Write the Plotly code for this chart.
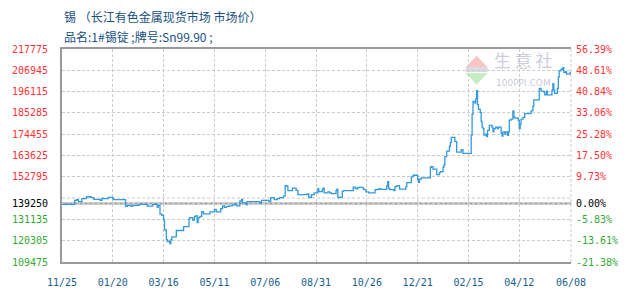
import plotly.graph_objects as go

# ---------------- data ----------------
dates = [
    "2019-11-25", "2019-12-09", "2019-12-11", "2019-12-13", "2019-12-17", "2019-12-22", "2019-12-27",
    "2019-12-30", "2020-01-06", "2020-01-08", "2020-01-09", "2020-01-15", "2020-01-20", "2020-01-21",
    "2020-02-03", "2020-02-05", "2020-02-09", "2020-02-11", "2020-02-18", "2020-02-27", "2020-03-04",
    "2020-03-09", "2020-03-10", "2020-03-12", "2020-03-14", "2020-03-16", "2020-03-17", "2020-03-19",
    "2020-03-20", "2020-03-23", "2020-03-24", "2020-03-25", "2020-03-30", "2020-04-07", "2020-04-13",
    "2020-04-14", "2020-04-17", "2020-04-19", "2020-04-21", "2020-04-22", "2020-04-23", "2020-04-25",
    "2020-04-27", "2020-04-29", "2020-05-06", "2020-05-11", "2020-05-13", "2020-05-18", "2020-05-20",
    "2020-05-22", "2020-05-24", "2020-05-27", "2020-05-31", "2020-06-02", "2020-06-04", "2020-06-08",
    "2020-06-10", "2020-06-11", "2020-06-15", "2020-06-16", "2020-06-30", "2020-07-01", "2020-07-02",
    "2020-07-10", "2020-07-12", "2020-07-16", "2020-07-19", "2020-07-22", "2020-07-26", "2020-07-28",
    "2020-07-30", "2020-07-31", "2020-08-05", "2020-08-09", "2020-08-11", "2020-08-21", "2020-08-23",
    "2020-08-25", "2020-08-26", "2020-08-29", "2020-09-02", "2020-09-03", "2020-09-07", "2020-09-08",
    "2020-09-09", "2020-09-13", "2020-09-15", "2020-09-17", "2020-09-22", "2020-09-23", "2020-09-24",
    "2020-09-25", "2020-09-27", "2020-09-29", "2020-09-30", "2020-10-11", "2020-10-13", "2020-10-14",
    "2020-10-16", "2020-10-22", "2020-10-23", "2020-10-25", "2020-10-28", "2020-11-04", "2020-11-08",
    "2020-11-10", "2020-11-17", "2020-11-18", "2020-11-19", "2020-11-20", "2020-11-25", "2020-11-26",
    "2020-11-28", "2020-12-01", "2020-12-08", "2020-12-09", "2020-12-14", "2020-12-16", "2020-12-21",
    "2020-12-22", "2020-12-23", "2020-12-25", "2021-01-04", "2021-01-05", "2021-01-07", "2021-01-11",
    "2021-01-14", "2021-01-15", "2021-01-18", "2021-01-19", "2021-01-20", "2021-01-22", "2021-01-25",
    "2021-01-26", "2021-01-27", "2021-01-31", "2021-02-02", "2021-02-07", "2021-02-09", "2021-02-18",
    "2021-02-19", "2021-02-20", "2021-02-22", "2021-02-23", "2021-02-24", "2021-02-25", "2021-02-26",
    "2021-02-28", "2021-03-01", "2021-03-02", "2021-03-03", "2021-03-04", "2021-03-06", "2021-03-07",
    "2021-03-08", "2021-03-10", "2021-03-13", "2021-03-14", "2021-03-15", "2021-03-17", "2021-03-19",
    "2021-03-20", "2021-03-23", "2021-03-24", "2021-03-25", "2021-03-27", "2021-03-28", "2021-03-30",
    "2021-03-31", "2021-04-01", "2021-04-03", "2021-04-05", "2021-04-06", "2021-04-07", "2021-04-11",
    "2021-04-12", "2021-04-13", "2021-04-14", "2021-04-16", "2021-04-18", "2021-04-25", "2021-04-27",
    "2021-04-28", "2021-05-04", "2021-05-06", "2021-05-09", "2021-05-10", "2021-05-12", "2021-05-13",
    "2021-05-18", "2021-05-19", "2021-05-20", "2021-05-21", "2021-05-24", "2021-05-25", "2021-05-26",
    "2021-05-28", "2021-05-30", "2021-05-31", "2021-06-02", "2021-06-03", "2021-06-07", "2021-06-08",
]
prices = [
    138750, 140840, 141180, 140200, 141650, 142650, 142160,
    141330, 140840, 141970, 141650, 142300, 141650, 141180,
    137750, 138240, 137750, 138240, 138730, 137900, 138730,
    137260, 138240, 133830, 133150, 131040, 125800, 120900,
    119900, 118780, 120900, 122220, 125500, 127460, 131380,
    132020, 130750, 132660, 132990, 129560, 132020, 132660,
    135110, 133980, 134960, 136280, 134960, 136580, 138040,
    137260, 137750, 138040, 138530, 139020, 138040, 140490,
    141330, 139510, 138530, 140200, 139250, 139710, 140840,
    140200, 142160, 141180, 141670, 142160, 142950, 148340,
    147800, 145740, 147060, 145900, 143780, 144100, 142490,
    142160, 143780, 144610, 146720, 145250, 146560, 147060,
    144610, 145090, 144610, 144280, 145740, 146560, 142490,
    142160, 142490, 145410, 145740, 147550, 147060, 146720,
    147390, 146560, 146230, 145100, 144610, 146230, 146720,
    146400, 148340, 150300, 147060, 146230, 145740, 147840,
    148340, 146560, 147840, 149810, 152750, 153580, 151620,
    149970, 151620, 152260, 157650, 157990, 156670, 153920,
    154910, 155400, 157650, 158820, 163030, 165830, 168280,
    170240, 172840, 170730, 165340, 166660, 164700, 174010,
    184600, 191170, 190330, 192440, 196540, 189500, 187050,
    185430, 181020, 178080, 177250, 174010, 174500, 173180,
    176450, 178900, 178080, 175630, 177250, 178080, 177250,
    178080, 174830, 173520, 175630, 174500, 175630, 173850,
    175630, 181660, 182160, 186270, 183300, 182640, 181330,
    177250, 179400, 182160, 183000, 184940, 186270, 188710,
    191950, 197680, 196370, 196040, 194400, 196370, 194400,
    196860, 200130, 196860, 195230, 197680, 203420, 206650,
    207480, 208320, 205870, 206200, 205040, 205870, 205870,
]

base_price = 139250
left_tick_values = [217775, 206945, 196115, 185285, 174455, 163625, 152795,
                    139250, 131135, 120305, 109475]
left_tick_labels = ["217775", "206945", "196115", "185285", "174455", "163625", "152795",
                    "139250", "131135", "120305", "109475"]
right_tick_labels = ["56.39%", "48.61%", "40.84%", "33.06%", "25.28%", "17.50%", "9.73%",
                     "0.00%", "-5.83%", "-13.61%", "-21.38%"]
extra_grid_value = 141965
x_tick_dates = ["2019-11-25", "2020-01-20", "2020-03-16", "2020-05-11", "2020-07-06",
                "2020-08-31", "2020-10-26", "2020-12-21", "2021-02-15", "2021-04-12",
                "2021-06-08"]
x_tick_labels = ["11/25", "01/20", "03/16", "05/11", "07/06", "08/31", "10/26",
                 "12/21", "02/15", "04/12", "06/08"]
title_line1 = "锡 （长江有色金属现货市场 市场价）"
title_line2 = "品名:1#锡锭 ;牌号:Sn99.90 ;"

# ---------------- styling ----------------
RED = "#ff3333"
GREEN = "#33aa33"
BLACK = "#000000"
GRID = "#cccccc"
FRAME = "#999999"
LINE = "#3399dd"
TITLE_C = "#17507f"
XLAB_C = "#1b5e8e"
MONO = "DejaVu Sans Mono"
CJK = "Noto Sans CJK SC"


def colour_for(v):
    if v > base_price:
        return RED
    if v < base_price:
        return GREEN
    return BLACK


left_text = [f"<span style='color:{colour_for(v)}'>{t}</span>"
             for v, t in zip(left_tick_values, left_tick_labels)]
right_text = [f"<span style='color:{colour_for(v)}'>{t}</span>"
              for v, t in zip(left_tick_values, right_tick_labels)]

yrange = [min(left_tick_values), max(left_tick_values)]

fig = go.Figure()
fig.add_trace(go.Scatter(x=dates, y=prices, mode="lines", line=dict(color=LINE, width=1.3, shape="hv"),
                         hoverinfo="x+y", showlegend=False))
fig.add_trace(go.Scatter(x=dates, y=prices, mode="lines", line=dict(color="rgba(0,0,0,0)", width=0),
                         yaxis="y2", hoverinfo="skip", showlegend=False))

W, H = 630, 300
ML, MR, MT, MB = 50, 49, 49, 30
pw, ph = W - ML - MR, H - MT - MB


def px(x):
    return (x - ML) / pw


def py(y):
    return (H - MB - y) / ph


shapes = [
    # extra dashed grid line just above the baseline
    dict(type="line", xref="paper", x0=0, x1=1, yref="y", y0=extra_grid_value, y1=extra_grid_value,
         line=dict(color=GRID, width=1, dash="3px,2px"), layer="below"),
    # solid base-price line
    dict(type="line", xref="paper", x0=0, x1=1, yref="y", y0=base_price, y1=base_price,
         line=dict(color=FRAME, width=2), layer="below"),
    # right dashed border
    dict(type="line", xref="paper", x0=1, x1=1, yref="paper", y0=0, y1=1,
         line=dict(color=GRID, width=1, dash="3px,2px"), layer="below"),
    # watermark logo (decoration)
    dict(type="path", xref="paper", yref="paper",
         path=f"M {px(471)} {py(68)} L {px(482.5)} {py(56)} L {px(494)} {py(68)} Z",
         fillcolor="rgba(240,150,150,0.55)", line=dict(width=0), layer="below"),
    dict(type="rect", xref="paper", yref="paper", x0=px(471), x1=px(494), y0=py(73), y1=py(68),
         fillcolor="rgba(150,150,170,0.35)", line=dict(width=0), layer="below"),
    dict(type="path", xref="paper", yref="paper",
         path=f"M {px(471)} {py(74)} L {px(482.5)} {py(86)} L {px(494)} {py(74)} Z",
         fillcolor="rgba(150,220,150,0.55)", line=dict(width=0), layer="below"),
]

annotations = [
    dict(text=title_line1, xref="paper", yref="paper", x=0, y=py(15), xanchor="left", yanchor="middle",
         showarrow=False, font=dict(family=CJK, size=12, color=TITLE_C)),
    dict(text=title_line2, xref="paper", yref="paper", x=0, y=py(36), xanchor="left", yanchor="middle",
         showarrow=False, font=dict(family=CJK, size=12, color=TITLE_C)),
    dict(text="生 意 社", xref="paper", yref="paper", x=px(531), y=py(75), xanchor="center", yanchor="bottom",
         showarrow=False, font=dict(family=CJK, size=17, color="rgba(170,170,200,0.6)")),
    dict(text="100PPI.COM", xref="paper", yref="paper", x=px(531), y=py(77), xanchor="center", yanchor="top",
         showarrow=False, font=dict(family="DejaVu Sans", size=9, color="rgba(170,170,190,0.65)")),
]

fig.update_layout(
    width=W, height=H,
    margin=dict(l=ML, r=MR, t=MT, b=MB, pad=0),
    paper_bgcolor="white", plot_bgcolor="white",
    showlegend=False,
    xaxis=dict(
        type="date", range=[x_tick_dates[0], x_tick_dates[-1]],
        tickmode="array", tickvals=x_tick_dates, ticktext=x_tick_labels,
        tickfont=dict(family=MONO, size=10, color=XLAB_C),
        showgrid=True, gridcolor=GRID, gridwidth=1, griddash="3px,2px",
        showline=True, linecolor=FRAME, linewidth=2, mirror=True,
        ticks="", ticklabelstandoff=10, zeroline=False, fixedrange=True,
    ),
    yaxis=dict(
        range=yrange, tickmode="array", tickvals=left_tick_values, ticktext=left_text,
        tickfont=dict(family=MONO, size=10, color=BLACK),
        showgrid=True, gridcolor=GRID, gridwidth=1, griddash="3px,2px",
        showline=True, linecolor=FRAME, linewidth=2,
        ticks="", ticklabelstandoff=10, zeroline=False, fixedrange=True,
    ),
    yaxis2=dict(
        range=yrange, overlaying="y", side="right", anchor="x",
        tickmode="array", tickvals=left_tick_values, ticktext=right_text,
        tickfont=dict(family=MONO, size=10, color=BLACK),
        showgrid=False, showline=False, ticks="", ticklabelstandoff=4,
        zeroline=False, fixedrange=True,
    ),
    shapes=shapes,
    annotations=annotations,
)

fig.write_html("out.html")
